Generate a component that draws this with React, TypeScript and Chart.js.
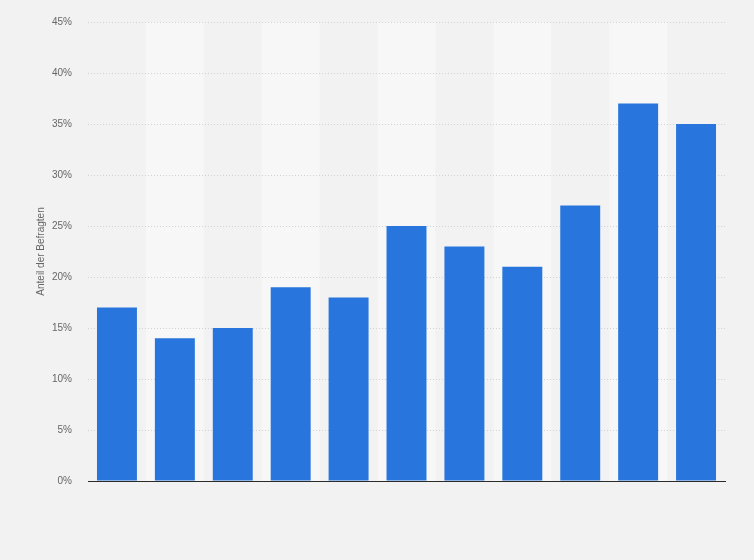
import { useEffect, useRef } from "react";
import { Chart, registerables, Plugin } from "chart.js";

Chart.register(...registerables);

const CATEGORIES = ["1", "2", "3", "4", "5", "6", "7", "8", "9", "10", "11"];
const SHARE_VALUES = [17, 14, 15, 19, 18, 25, 23, 21, 27, 37, 35];
const Y_TICKS_MAX = 45;
const Y_TICKS_STEP = 5;

const BAR_COLOR = "#2876dd";
const BG_COLOR = "#f2f2f2";
const BAND_COLOR = "#f7f7f7";
const FONT = "Arial, 'Liberation Sans', sans-serif";

// alternating light bands behind every second category
const bandsPlugin: Plugin = {
  id: "bands",
  beforeDraw: (chart) => {
    const { ctx, chartArea, scales } = chart;
    const x = scales.x;
    const step = (chartArea.right - chartArea.left) / CATEGORIES.length;
    ctx.save();
    ctx.fillStyle = BAND_COLOR;
    CATEGORIES.forEach((_, i) => {
      if (i % 2 === 1) {
        const cx = x.getPixelForValue(i);
        ctx.fillRect(cx - step / 2, chartArea.top, step, chartArea.bottom - chartArea.top);
      }
    });
    ctx.restore();
  },
};

const App = () => {
  const chartRef = useRef<HTMLCanvasElement>(null);
  const chartInstance = useRef<Chart | null>(null);

  useEffect(() => {
    document.body.style.margin = "0";
    if (!chartRef.current) return;
    const ctx = chartRef.current.getContext("2d");
    if (!ctx) return;

    chartInstance.current = new Chart(ctx, {
      type: "bar",
      data: {
        labels: CATEGORIES,
        datasets: [
          {
            label: "Anteil der Befragten",
            data: SHARE_VALUES,
            backgroundColor: BAR_COLOR,
            barPercentage: 0.69,
            categoryPercentage: 1,
          },
        ],
      },
      options: {
        animation: false,
        responsive: true,
        maintainAspectRatio: false,
        layout: { padding: { top: 10, right: 29, bottom: 79, left: 35 } },
        plugins: {
          legend: { display: false },
          tooltip: { enabled: false },
        },
        scales: {
          x: {
            ticks: { display: false },
            grid: { display: false, drawTicks: false },
            border: { display: true, color: "#2b2b2b", width: 1 },
          },
          y: {
            min: 0,
            max: Y_TICKS_MAX,
            afterFit: (axis) => {
              axis.width = 53;
            },
            ticks: {
              stepSize: Y_TICKS_STEP,
              padding: 16,
              color: "#666666",
              font: { family: FONT, size: 10 },
              callback: (value) => `${value}%`,
            },
            grid: { color: "#d2d2d2", drawTicks: false, lineWidth: 1 },
            border: { display: false, dash: [1, 2] },
            title: {
              display: true,
              text: "Anteil der Befragten",
              color: "#666666",
              font: { family: FONT, size: 10 },
              padding: { top: 0, bottom: 6 },
            },
          },
        },
      },
      plugins: [bandsPlugin],
    });

    return () => {
      if (chartInstance.current) {
        chartInstance.current.destroy();
      }
    };
  }, []);

  return (
    <div style={{ width: 754, height: 560, background: BG_COLOR, position: "relative" }}>
      <canvas ref={chartRef} />
    </div>
  );
};

export default App;
